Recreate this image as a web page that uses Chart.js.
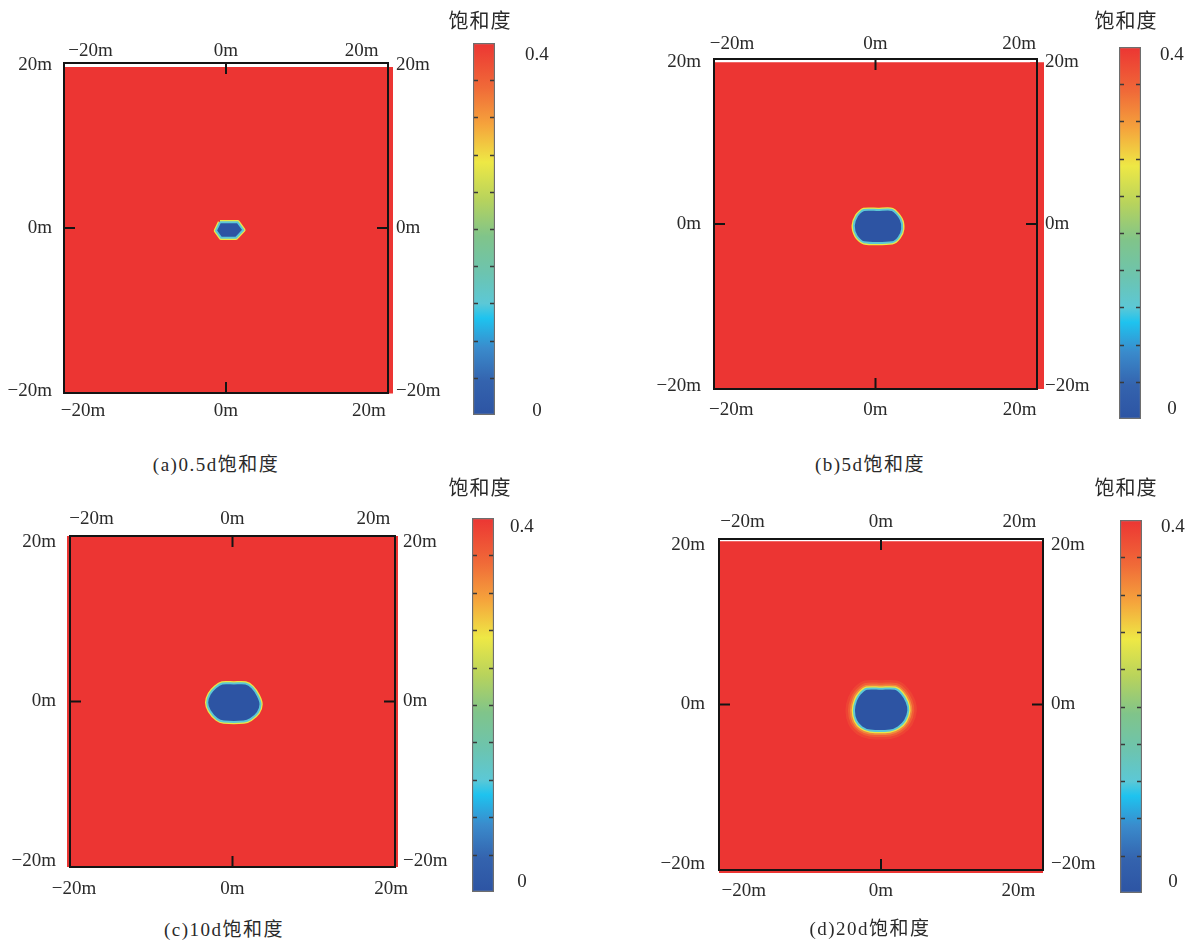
<!DOCTYPE html>
<html>
<head>
<meta charset="utf-8">
<script src="https://cdn.jsdelivr.net/npm/chart.js@4.4.1/dist/chart.umd.min.js"></script>
<style>
  body { margin: 0; background: #fff; }
  #page { position: relative; width: 1196px; height: 940px; overflow: hidden; background: #fff; }
  #page canvas { position: absolute; }
  .caption, .cbtitle {
    position: absolute; transform: translate(-50%, -50%); white-space: nowrap; color: #2a2a2a;
    font: 19px "Liberation Serif", "Noto Sans CJK SC", serif; letter-spacing: 1.5px;
  }
  .cbtitle { font-family: "Noto Sans CJK SC", sans-serif; font-size: 20px; letter-spacing: 1px; }
</style>
</head>
<body>
<div id="page"></div>
<script>
// ---------- data ----------
const captions = ['(a)0.5d饱和度', '(b)5d饱和度', '(c)10d饱和度', '(d)20d饱和度'];
const colorbarTitle = '饱和度';
const axisTicks = [-20, 0, 20];          // m
const fieldValue = 0.4;                  // saturation of undisturbed soil
const blobValue = 0;                     // saturation inside the drained zone
const ringLevels = [0.12, 0.27];         // transition band at the zone edge
const colorbarRange = [0, 0.4];
const colorbarStep = 0.04;
const colorbarLabels = [0.4, 0];

// colour map (position along 0..0.4, colour)
const cmapPos = [0, 0.09, 0.18, 0.26, 0.30, 0.38, 0.48, 0.58, 0.68, 0.78, 0.88, 1];
const cmapColors = ['#2d54a3', '#3463ae', '#3a8bcc', '#1ec3ef', '#5cc8d6', '#6cc4b0',
                    '#80c48a', '#b8d35c', '#eee845', '#f5a43c', '#f06a38', '#ec3533'];

// saturated field extent (m)
const fieldAX = [-22.66, 22.66], fieldAY = [-20.3, 19.76];
const fieldBX = [-22.4, 22.4], fieldBY = [-20.4, 19.99];
const fieldCX = [-20.5, 20.5], fieldCY = [-20.7, 20.7];
const fieldDX = [-23.6, 23.6], fieldDY = [-20.75, 20.46];

// drained zone outline (m), clockwise from the top
const blobAX = [-0.84, 1.64, 2.42, 1.40, -0.70, -1.40];
const blobAY = [0.70, 0.70, -0.25, -1.19, -1.19, -0.33];
const blobBX = [0.35, 2.32, 3.47, 3.70, 3.23, 2.32, -1.62, -2.64, -3.01, -2.54, -1.62];
const blobBY = [1.73, 1.73, 0.62, -0.62, -1.64, -2.26, -2.26, -1.45, -0.21, 1.03, 1.73];
const blobCX = [0.17, 1.64, 2.48, 3.19, 3.53, 3.19, 2.27, 1.42, -1.10, -1.93, -2.86, -3.19, -2.86, -2.14, -1.30];
const blobCY = [2.25, 2.25, 1.75, 0.71, -0.33, -1.38, -2.20, -2.50, -2.50, -2.20, -1.16, -0.13, 0.93, 1.75, 2.25];
const blobDX = [-0.02, 2.04, 3.02, 3.75, 3.98, 3.50, 2.52, 1.31, -1.60, -2.81, -3.64, -3.94, -3.64, -3.06, -2.08];
const blobDY = [1.97, 1.97, 1.34, 0.29, -0.75, -2.01, -2.85, -3.26, -3.26, -2.85, -2.01, -0.75, 0.50, 1.34, 1.97];

// ---------- layout ----------
// spill: [edge indexes of the field rectangle (0 bottom, 1 right, 2 top, 3 left), px beyond frame]
const panels = [
  { frame: [64, 63, 388, 393], xTop: 23.9, xBot: 22.66, yR: 20.25, tickPad: [1, 7, 12, 8],
    fieldX: fieldAX, fieldY: fieldAY, blobX: blobAX, blobY: blobAY, halo: false, spill: [[1], 5], smooth: 0,
    bar: [473, 43, 495, 415], barLbl: [12, 4.3, 30], caption: [216, 462], title: [480, 19] },
  { frame: [714, 59, 1037, 389], xTop: 22.5, xBot: 22.4, yR: 20.4, tickPad: [4, 9.5, 13, 8],
    fieldX: fieldBX, fieldY: fieldBY, blobX: blobBX, blobY: blobBY, halo: false, spill: [[1], 7], smooth: 0.25,
    bar: [1119, 47, 1141, 419], barLbl: [8, 10, 19], caption: [870, 462], title: [1126, 19] },
  { frame: [70, 536, 395, 867], xTop: 23.05, xBot: 20.5, yR: 20.7, tickPad: [6, 11, 14, 8],
    fieldX: fieldCX, fieldY: fieldCY, blobX: blobCX, blobY: blobCY, halo: false, spill: [[1, 3], 3], smooth: 0.3,
    bar: [472, 518, 494, 892], barLbl: [9, 10, 16], caption: [224, 927], title: [480, 486] },
  { frame: [719, 539, 1043, 870], xTop: 23.4, xBot: 23.6, yR: 20.75, tickPad: [6, 9.5, 14, 8],
    fieldX: fieldDX, fieldY: fieldDY, blobX: blobDX, blobY: blobDY, halo: true, spill: [[0], 3], smooth: 0.3,
    bar: [1120, 520, 1142, 893], barLbl: [7, 11, 19], caption: [870, 926], title: [1126, 486] }
];

const page = document.getElementById('page');
const textColor = '#2a2a2a';
const tickFont = { family: '"Liberation Serif", serif', size: 19 };
const clear = 'rgba(0,0,0,0)';

function hexToRgb(h) {
  return [1, 3, 5].map(i => parseInt(h.slice(i, i + 2), 16));
}
function colorAt(v) {
  const t = Math.min(1, Math.max(0, (v - colorbarRange[0]) / (colorbarRange[1] - colorbarRange[0])));
  for (let i = 1; i < cmapPos.length; i++) {
    if (t <= cmapPos[i]) {
      const f = (t - cmapPos[i - 1]) / (cmapPos[i] - cmapPos[i - 1]);
      const a = hexToRgb(cmapColors[i - 1]), b = hexToRgb(cmapColors[i]);
      const c = a.map((x, k) => Math.round(x + (b[k] - x) * f));
      return `rgb(${c[0]},${c[1]},${c[2]})`;
    }
  }
  return cmapColors[cmapColors.length - 1];
}

function meterLabel(v) {
  return (v < 0 ? '\u2212' : '') + Math.abs(v) + 'm';
}

function closedShape(xs, ys) {
  const pts = xs.map((x, i) => ({ x, y: ys[i] }));
  pts.push({ x: xs[0], y: ys[0] });
  return pts;
}
function rectShape(xr, yr) {
  return closedShape([xr[0], xr[1], xr[1], xr[0]], [yr[0], yr[0], yr[1], yr[1]]);
}

function lineSet(points, opts) {
  return Object.assign({
    data: points, showLine: true, pointRadius: 0, pointHoverRadius: 0,
    fill: false, tension: 0, borderColor: clear, borderWidth: 1,
    borderJoinStyle: 'round'
  }, opts);
}

function frameAxis(position, range, size, pad) {
  return {
    type: 'linear', position, min: -range, max: range,
    grid: { display: false, drawTicks: false },
    border: { display: true, color: '#141414', width: 2, z: 1 },
    ticks: {
      color: textColor, font: tickFont, padding: pad, autoSkip: false,
      maxRotation: 0, minRotation: 0, callback: meterLabel
    },
    afterBuildTicks: s => { s.ticks = axisTicks.map(v => ({ value: v })); },
    afterFit: s => { if (s.isHorizontal()) s.height = size; else s.width = size; }
  };
}

// inward tick marks at 0 on each side of the frame
const frameTicks = {
  id: 'frameTicks',
  afterDraw(chart) {
    const { ctx, chartArea: a, scales } = chart;
    const len = 11;
    const xb = scales.x.getPixelForValue(0), xt = scales.x2.getPixelForValue(0);
    const yl = scales.y.getPixelForValue(0), yr = scales.y2.getPixelForValue(0);
    ctx.save();
    ctx.strokeStyle = '#141414';
    ctx.lineWidth = 2;
    ctx.beginPath();
    ctx.moveTo(xb, a.bottom); ctx.lineTo(xb, a.bottom - len);
    ctx.moveTo(xt, a.top); ctx.lineTo(xt, a.top + len);
    ctx.moveTo(a.left, yl); ctx.lineTo(a.left + len, yl);
    ctx.moveTo(a.right, yr); ctx.lineTo(a.right - len, yr);
    ctx.stroke();
    ctx.restore();
  }
};

// small dashes on both inner edges of the colour bar
const colorbarMarks = {
  id: 'colorbarMarks',
  afterDatasetsDraw(chart) {
    const { ctx, chartArea: a, scales } = chart;
    ctx.save();
    ctx.strokeStyle = '#3a3a3a';
    ctx.lineWidth = 1.5;
    ctx.beginPath();
    scales.y.ticks.forEach(t => {
      const py = Math.round(scales.y.getPixelForValue(t.value)) + 0.5;
      if (py < a.top + 3 || py > a.bottom - 3) return;
      ctx.moveTo(a.left + 1, py); ctx.lineTo(a.left + 5, py);
      ctx.moveTo(a.right - 5, py); ctx.lineTo(a.right - 1, py);
    });
    ctx.stroke();
    ctx.restore();
  }
};

function makePanel(p) {
  const [L, T, R, B] = p.frame;
  const padL = 64, padR = 64, padT = 40, padB = 45;
  const canvas = document.createElement('canvas');
  canvas.width = R - L + padL + padR;
  canvas.height = B - T + padT + padB;
  canvas.style.left = (L - padL) + 'px';
  canvas.style.top = (T - padT) + 'px';
  page.appendChild(canvas);

  const red = colorAt(fieldValue);
  const [spillEdges, spillPx] = p.spill;
  const field = rectShape(p.fieldX, p.fieldY);
  const blob = closedShape(p.blobX, p.blobY);
  const t = p.smooth;
  const datasets = [
    lineSet(field, { fill: 'shape', backgroundColor: red, borderWidth: 0, order: 8 }),
    // the red area runs slightly past the frame on some sides
    lineSet(field, {
      order: 7, clip: false, borderWidth: spillPx * 2, borderJoinStyle: 'miter', borderCapStyle: 'butt',
      segment: { borderColor: c => spillEdges.includes(c.p0DataIndex) ? red : clear }
    })
  ];
  if (p.halo) {
    datasets.push(lineSet(blob, { tension: t, borderColor: 'rgba(247,150,60,0.16)', borderWidth: 17, order: 6 }));
    datasets.push(lineSet(blob, { tension: t, borderColor: 'rgba(245,175,62,0.24)', borderWidth: 12, order: 5 }));
    datasets.push(lineSet(blob, { tension: t, borderColor: 'rgba(240,205,72,0.4)', borderWidth: 8, order: 4 }));
  }
  datasets.push(lineSet(blob, { tension: t, borderColor: colorAt(ringLevels[1]), borderWidth: 4.5, order: 2 }));
  datasets.push(lineSet(blob, {
    tension: t, fill: 'shape', backgroundColor: colorAt(blobValue),
    borderColor: colorAt(ringLevels[0]), borderWidth: 2, order: 1
  }));

  new Chart(canvas, {
    type: 'scatter',
    data: { datasets },
    options: {
      responsive: false, animation: false, events: [],
      layout: { padding: 0 },
      plugins: { legend: { display: false }, tooltip: { enabled: false } },
      scales: {
        x: frameAxis('bottom', p.xBot, padB, p.tickPad[1]),
        x2: frameAxis('top', p.xTop, padT, p.tickPad[0]),
        y: frameAxis('left', p.yR, padL, p.tickPad[2]),
        y2: frameAxis('right', p.yR, padR, p.tickPad[3])
      }
    },
    plugins: [frameTicks]
  });
}

function makeColorbar(p) {
  const [L, T, R, B] = p.bar;
  const w = 110, padV = 20;
  const barW = R - L;
  const [topOff, botOff, lblPad] = p.barLbl;
  const span = colorbarRange[1] - colorbarRange[0];
  const ppu = (B - T - topOff - botOff) / span;

  const canvas = document.createElement('canvas');
  canvas.width = w;
  canvas.height = B - T + 2 * padV;
  canvas.style.left = L + 'px';
  canvas.style.top = (T - padV) + 'px';
  page.appendChild(canvas);

  const noPad = s => { s.paddingTop = 0; s.paddingBottom = 0; };

  new Chart(canvas, {
    type: 'bar',
    data: {
      labels: [colorbarTitle],
      datasets: [{
        data: [[colorbarRange[0], colorbarRange[1]]],
        backgroundColor: c => {
          const a = c.chart.chartArea;
          if (!a) return colorAt(0.2);
          const g = c.chart.ctx.createLinearGradient(0, a.bottom, 0, a.top);
          cmapPos.forEach((t, i) => g.addColorStop(t, cmapColors[i]));
          return g;
        },
        borderColor: '#6e6e6e', borderWidth: 1.5, borderSkipped: false,
        barPercentage: 1, categoryPercentage: 1
      }]
    },
    options: {
      responsive: false, animation: false, events: [],
      layout: { padding: { top: padV, bottom: padV, left: 0, right: 0 } },
      plugins: { legend: { display: false }, tooltip: { enabled: false } },
      scales: {
        x: { display: false },
        y: {
          min: colorbarRange[0], max: colorbarRange[1],
          ticks: { display: false, stepSize: colorbarStep },
          grid: { display: false, drawTicks: false }, border: { display: false },
          afterFit: s => { s.width = 0; noPad(s); }
        },
        y2: {
          position: 'right',
          min: colorbarRange[0] - botOff / ppu, max: colorbarRange[1] + topOff / ppu,
          grid: { display: false, drawTicks: false }, border: { display: false },
          ticks: { color: textColor, font: tickFont, padding: lblPad, crossAlign: 'center', callback: v => String(v) },
          afterBuildTicks: s => { s.ticks = colorbarLabels.map(v => ({ value: v })); },
          afterFit: s => { s.width = w - barW; noPad(s); }
        }
      }
    },
    plugins: [colorbarMarks]
  });
}

function addText(cls, text, pos) {
  const d = document.createElement('div');
  d.className = cls;
  d.textContent = text;
  d.style.left = pos[0] + 'px';
  d.style.top = pos[1] + 'px';
  page.appendChild(d);
}

panels.forEach((p, i) => {
  makePanel(p);
  makeColorbar(p);
  addText('cbtitle', colorbarTitle, p.title);
  addText('caption', captions[i], p.caption);
});
</script>
</body>
</html>
